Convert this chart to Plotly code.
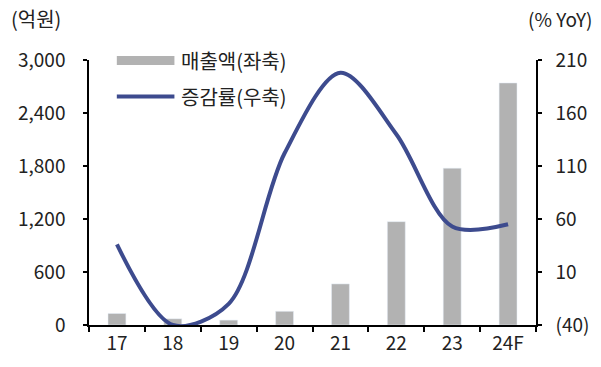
import plotly.graph_objects as go

categories = ["17", "18", "19", "20", "21", "22", "23", "24F"]
sales = [130, 70, 55, 155, 465, 1170, 1775, 2740]          # 매출액 (억원), left axis
growth = [36, -40, -20, 122, 198, 140, 53, 55]              # 증감률 (% YoY), right axis
left_ticks = [0, 600, 1200, 1800, 2400, 3000]
right_ticks = [-40, 10, 60, 110, 160, 210]
right_ticktext = ["(40)", "10", "60", "110", "160", "210"]

W, H = 601, 367
L, R, T, B = 89, 62, 60, 39
PW, PH = W - L - R, H - T - B
FONT = "Noto Sans CJK KR"
TXT = "#222222"
BAR = "#B2B2B2"
LINE = "#3D4B8E"


def px(x):
    return (x - L) / PW


def py(y):
    return (H - B - y) / PH


fig = go.Figure()
fig.add_trace(go.Bar(x=categories, y=sales, marker_color=BAR, width=0.32,
                     name="매출액(좌축)", yaxis="y"))
fig.add_trace(go.Scatter(x=categories, y=growth, mode="lines",
                         line=dict(color=LINE, width=4, shape="spline", smoothing=0.9),
                         name="증감률(우축)", yaxis="y2"))

axis_common = dict(showline=True, linecolor="#000", linewidth=1.5, ticks="outside",
                   tickcolor="#000", tickwidth=1.5, showgrid=False, zeroline=False,
                   tickfont=dict(family=FONT, size=19, color=TXT))

fig.update_layout(
    width=W, height=H, margin=dict(l=L, r=R, t=T, b=B),
    paper_bgcolor="white", plot_bgcolor="white", showlegend=False,
    xaxis=dict(**axis_common, ticklen=5, tickson="boundaries", range=[-0.5, 7.5],
               type="category"),
    yaxis=dict(**axis_common, ticklen=4, range=[0, 3000], tickvals=left_ticks,
               tickformat=",", ticklabelstandoff=14),
    yaxis2=dict(**axis_common, ticklen=4, range=[-40, 210], tickvals=right_ticks,
                ticktext=right_ticktext, overlaying="y", side="right",
                ticklabelstandoff=10),
)

# custom legend
fig.add_shape(type="rect", xref="paper", yref="paper",
              x0=px(117), x1=px(175), y0=py(65), y1=py(56),
              fillcolor=BAR, line_width=0)
fig.add_shape(type="line", xref="paper", yref="paper",
              x0=px(117), x1=px(175), y0=py(97), y1=py(97),
              line=dict(color=LINE, width=4))
fig.add_annotation(text="매출액(좌축)", xref="paper", yref="paper", x=px(180), y=py(60),
                   xanchor="left", yanchor="middle", showarrow=False,
                   font=dict(family=FONT, size=20, color=TXT))
fig.add_annotation(text="증감률(우축)", xref="paper", yref="paper", x=px(180), y=py(97),
                   xanchor="left", yanchor="middle", showarrow=False,
                   font=dict(family=FONT, size=20, color=TXT))
# axis unit titles
fig.add_annotation(text="(억원)", xref="paper", yref="paper", x=px(8), y=py(18),
                   xanchor="left", yanchor="middle", showarrow=False,
                   font=dict(family=FONT, size=20, color=TXT))
fig.add_annotation(text="(% YoY)", xref="paper", yref="paper", x=px(597), y=py(18),
                   xanchor="right", yanchor="middle", showarrow=False,
                   font=dict(family=FONT, size=19, color=TXT))

fig.write_html("out.html")
